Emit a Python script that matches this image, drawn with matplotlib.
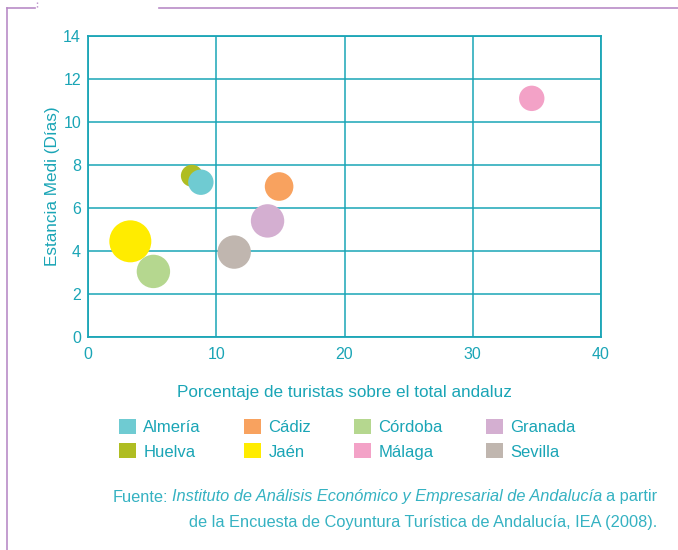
import matplotlib.pyplot as plt
from matplotlib.patches import Patch
from matplotlib.lines import Line2D

provincias = ['Almería', 'Cádiz', 'Córdoba', 'Granada', 'Huelva', 'Jaén', 'Málaga', 'Sevilla']
porcentaje = [8.8, 14.9, 5.1, 14.0, 8.1, 3.3, 34.6, 11.4]
estancia = [7.2, 7.0, 3.05, 5.4, 7.5, 4.45, 11.1, 3.95]
tamano = [12.7, 14.3, 16.7, 16.7, 11.0, 21.0, 12.7, 16.7]  # radio relativo de la burbuja

colores = ['#6fcbd2', '#f8a25f', '#b5d78f', '#d4afd1', '#afbd22', '#ffec00', '#f3a2c7', '#c0b6af']

teal = '#1aa5b6'
teal_claro = '#35b2c2'
morado = '#b98cc7'

plt.rcParams['font.family'] = ['Liberation Sans', 'DejaVu Sans']

fig = plt.figure(figsize=(6.78, 5.5), dpi=100)
ax = fig.add_axes([88 / 678, 1 - 337 / 550, (601 - 88) / 678, (337 - 36) / 550])

ax.set_xlim(0, 40)
ax.set_ylim(0, 14)
ax.set_xticks([0, 10, 20, 30, 40])
ax.set_yticks(range(0, 15, 2))
ax.grid(True, color=teal, linewidth=1.1, zorder=0)
ax.set_axisbelow(True)
for s in ax.spines.values():
    s.set_color(teal)
    s.set_linewidth(1.3)
ax.tick_params(length=0, labelsize=11.5, labelcolor=teal)
ax.tick_params(axis='y', pad=5)
ax.tick_params(axis='x', pad=7)

# las burbujas se dibujan en orden inverso para que Almería quede encima de Huelva
for i in reversed(range(len(provincias))):
    s = (2 * tamano[i] * 0.72) ** 2
    ax.scatter(porcentaje[i], estancia[i], s=s, color=colores[i], edgecolors='none', zorder=3)

ax.set_xlabel('Porcentaje de turistas sobre el total andaluz', fontsize=12.3, color=teal, labelpad=17)
ax.set_ylabel('Estancia Medi (Días)', fontsize=12.3, color=teal, labelpad=2.5)

# leyenda en dos filas, rellenada por columnas
orden = [0, 4, 1, 5, 2, 6, 3, 7]
handles = [Patch(facecolor=colores[i], edgecolor='none') for i in orden]
labels = [provincias[i] for i in orden]
leg = fig.legend(handles, labels, ncol=4, loc='upper left', bbox_to_anchor=(104 / 678, 1 - 404 / 550),
                 frameon=False, fontsize=12, handlelength=1.0, handleheight=1.0,
                 handletextpad=0.45, columnspacing=2.6, labelspacing=0.5)
for t in leg.get_texts():
    t.set_color(teal)

fs = 11.8
t_fin = fig.text(657 / 678, 1 - 497 / 550, 'a partir', ha='right', va='center', fontsize=fs, color=teal_claro)
fig.canvas.draw()
r = fig.canvas.get_renderer()
bb = t_fin.get_window_extent(r)
t_ital = fig.text(bb.x0 / fig.bbox.width - 4 / 678, 1 - 497 / 550,
                  'Instituto de Análisis Económico y Empresarial de Andalucía',
                  ha='right', va='center', fontsize=fs, color=teal_claro, style='italic')
bb = t_ital.get_window_extent(r)
fig.text(bb.x0 / fig.bbox.width - 4 / 678, 1 - 497 / 550, 'Fuente:', ha='right', va='center',
         fontsize=fs, color=teal_claro)
fig.text(657 / 678, 1 - 522 / 550,
         'de la Encuesta de Coyuntura Turística de Andalucía, IEA (2008).',
         ha='right', va='center', fontsize=fs, color=teal_claro)

# marco decorativo
fig.add_artist(Line2D([7 / 678, 35 / 678], [1 - 8 / 550, 1 - 8 / 550], color=morado, lw=1.2))
fig.add_artist(Line2D([7 / 678, 7 / 678], [1 - 8 / 550, 0], color=morado, lw=1.2))
fig.add_artist(Line2D([159 / 678, 1], [1 - 8 / 550, 1 - 8 / 550], color=morado, lw=1.2))
fig.add_artist(Line2D([37 / 678, 37 / 678], [1 - 2 / 550, 1 - 8 / 550], color=morado, lw=1.0, ls=':'))

fig.savefig('out.png', dpi=100)
